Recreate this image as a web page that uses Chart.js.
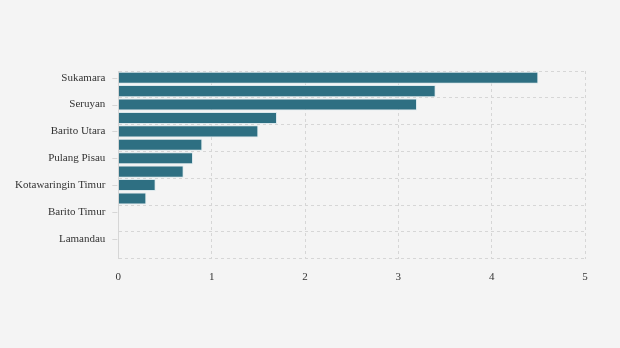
<!DOCTYPE html>
<html>
<head>
<meta charset="utf-8">
<script src="https://cdn.jsdelivr.net/npm/chart.js@4/dist/chart.umd.min.js"></script>
<style>
  html, body { margin: 0; padding: 0; background: #f4f4f4; }
  #wrap { width: 620px; height: 348px; }
</style>
</head>
<body>
<div id="wrap"><canvas id="chart" width="620" height="348"></canvas></div>
<script>
const regions = [
  "Sukamara", "Kotawaringin Barat", "Seruyan", "Kapuas", "Barito Utara",
  "Katingan", "Pulang Pisau", "Gunung Mas", "Kotawaringin Timur", "Murung Raya",
  "Barito Timur", "Barito Selatan", "Lamandau", "Palangka Raya"
];
const values = [4.5, 3.4, 3.2, 1.7, 1.5, 0.9, 0.8, 0.7, 0.4, 0.3, 0, 0, 0, 0];
const xTicks = [0, 1, 2, 3, 4, 5];

const barColor = "#2e6f82";
const gridColor = "#d6d6d6";
const tickFont = { family: "Liberation Serif", size: 11 };

Chart.defaults.animation = false;

// short tick marks beside each shown label
const labelMarks = {
  id: "labelMarks",
  afterDraw(chart) {
    const y = chart.scales.y, ctx = chart.ctx;
    ctx.save();
    ctx.strokeStyle = gridColor;
    ctx.lineWidth = 1;
    regions.forEach((r, i) => {
      if (i % 2) return;
      const py = Math.round(y.getPixelForTick(i)) + 0.5;
      ctx.beginPath();
      ctx.moveTo(y.right - 6, py);
      ctx.lineTo(y.right - 1, py);
      ctx.stroke();
    });
    ctx.restore();
  }
};

new Chart(document.getElementById("chart"), {
  type: "bar",
  data: {
    labels: regions,
    datasets: [{
      data: values,
      backgroundColor: barColor,
      borderColor: "#dbe8ec",
      borderWidth: 1,
      barPercentage: 0.9,
      categoryPercentage: 1
    }]
  },
  options: {
    indexAxis: "y",
    responsive: false,
    layout: { padding: { top: 71, right: 35, bottom: 60, left: 8 } },
    plugins: { legend: { display: false }, tooltip: { enabled: false } },
    scales: {
      x: {
        min: 0,
        max: 5,
        afterBuildTicks: axis => { axis.ticks = xTicks.map(v => ({ value: v })); },
        grid: { color: gridColor, tickColor: "transparent", tickLength: 8 },
        border: { display: false, dash: [3, 3] },
        ticks: { color: "#333", font: tickFont, padding: 4 }
      },
      y: {
        grid: {
          color: c => (c.index % 2 ? "transparent" : gridColor),
          tickColor: "transparent",
          tickLength: 6
        },
        border: { display: true, color: gridColor, dash: [3, 3] },
        ticks: {
          color: "#333",
          font: tickFont,
          autoSkip: false,
          padding: 7,
          callback: (v, i) => (i % 2 ? "" : regions[i])
        }
      }
    }
  },
  plugins: [labelMarks]
});
</script>
</body>
</html>
